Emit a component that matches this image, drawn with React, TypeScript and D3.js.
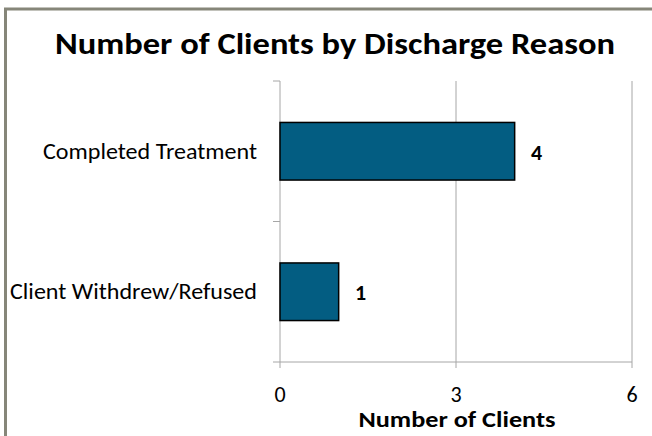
import React, { useEffect, useRef } from "react";
import * as d3 from "d3";

const categories = ["Completed Treatment", "Client Withdrew/Refused"];
const clients = [4, 1];
const xTicks = [0, 3, 6];

const App = () => {
  const chartRef = useRef<SVGSVGElement>(null);

  useEffect(() => {
    const svg = d3.select(chartRef.current);
    svg.selectAll("*").remove();

    const W = 652;
    const H = 436;
    const margin = { top: 81, right: 20, bottom: 74, left: 280 };
    const font = "Carlito, Lato, sans-serif";
    // label widths
    const labelWidth: Record<string, number> = {
      "Completed Treatment": 214,
      "Client Withdrew/Refused": 247,
    };

    // outer frame (cut off at right/bottom)
    svg.append("rect")
      .attr("x", 5.5).attr("y", 9)
      .attr("width", W + 10).attr("height", H + 10)
      .attr("fill", "#fff")
      .attr("stroke", "#868679")
      .attr("stroke-width", 3);

    const x = d3.scaleLinear().domain([0, 6]).range([margin.left, 632]);
    const y = d3.scaleBand<string>()
      .domain(categories)
      .range([margin.top, H - margin.bottom])
      .paddingInner(0.59)
      .paddingOuter(0.295);

    // title
    svg.append("text")
      .attr("x", 335).attr("y", 54)
      .attr("text-anchor", "middle")
      .style("font-family", font)
      .style("font-size", "31px")
      .style("font-weight", "bold")
      .attr("textLength", 560)
      .attr("lengthAdjust", "spacingAndGlyphs")
      .text("Number of Clients by Discharge Reason");

    // gridlines
    svg.append("g")
      .selectAll("line")
      .data(xTicks)
      .enter()
      .append("line")
      .attr("x1", (d) => x(d)).attr("x2", (d) => x(d))
      .attr("y1", margin.top).attr("y2", H - margin.bottom + 6)
      .attr("stroke", "#a6a6a6")
      .attr("stroke-width", 1);

    // category axis ticks
    const yEdges = [margin.top, margin.top + (H - margin.bottom - margin.top) / 2, H - margin.bottom];
    svg.append("g")
      .selectAll("line")
      .data(yEdges)
      .enter()
      .append("line")
      .attr("x1", margin.left - 7).attr("x2", margin.left)
      .attr("y1", (d) => d).attr("y2", (d) => d)
      .attr("stroke", "#a6a6a6");

    // x axis line
    svg.append("line")
      .attr("x1", margin.left).attr("x2", x(6))
      .attr("y1", H - margin.bottom).attr("y2", H - margin.bottom)
      .attr("stroke", "#a6a6a6");

    // bars
    svg.append("g")
      .selectAll("rect")
      .data(categories)
      .enter()
      .append("rect")
      .attr("x", x(0))
      .attr("y", (d) => y(d)!)
      .attr("width", (d, i) => x(clients[i]) - x(0))
      .attr("height", y.bandwidth())
      .attr("fill", "#035d82")
      .attr("stroke", "#000")
      .attr("stroke-width", 1.5);

    // value labels
    svg.append("g")
      .selectAll("text")
      .data(categories)
      .enter()
      .append("text")
      .attr("x", (d, i) => x(clients[i]) + 22)
      .attr("y", (d) => y(d)! + y.bandwidth() / 2 + 1)
      .attr("text-anchor", "middle")
      .attr("dominant-baseline", "central")
      .style("font-family", font)
      .style("font-size", "22px")
      .style("font-weight", "bold")
      .text((d, i) => clients[i]);

    // category labels
    svg.append("g")
      .selectAll("text")
      .data(categories)
      .enter()
      .append("text")
      .attr("x", 257)
      .attr("y", (d) => y(d)! + y.bandwidth() / 2)
      .attr("text-anchor", "end")
      .attr("dominant-baseline", "central")
      .attr("textLength", (d) => labelWidth[d])
      .attr("lengthAdjust", "spacingAndGlyphs")
      .style("font-family", font)
      .style("font-size", "22px")
      .text((d) => d);

    // tick labels
    svg.append("g")
      .selectAll("text")
      .data(xTicks)
      .enter()
      .append("text")
      .attr("x", (d) => x(d))
      .attr("y", 394)
      .attr("text-anchor", "middle")
      .attr("dominant-baseline", "central")
      .style("font-family", font)
      .style("font-size", "22px")
      .text((d) => d);

    // axis title
    svg.append("text")
      .attr("x", 457).attr("y", 427)
      .attr("text-anchor", "middle")
      .attr("textLength", 197)
      .attr("lengthAdjust", "spacingAndGlyphs")
      .style("font-family", font)
      .style("font-size", "23px")
      .style("font-weight", "bold")
      .text("Number of Clients");
  }, []);

  return (
    <svg
      ref={chartRef}
      width={652}
      height={436}
      style={{ position: "absolute", left: 0, top: 0, background: "#fff" }}
    />
  );
};

export default App;
